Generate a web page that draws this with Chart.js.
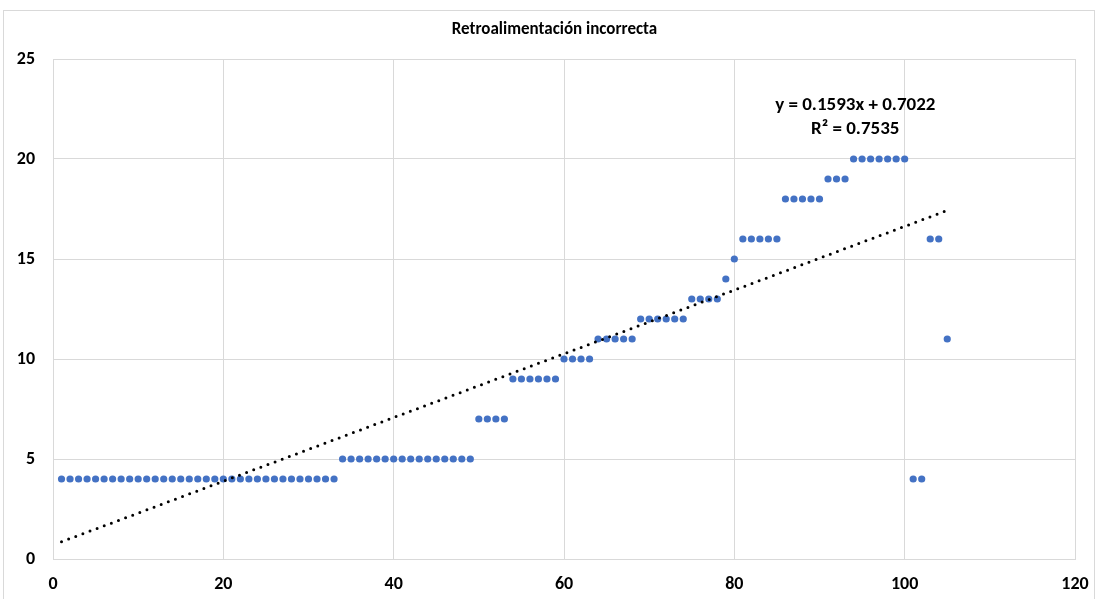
<!DOCTYPE html>
<html>
<head>
<meta charset="utf-8">
<script src="https://cdn.jsdelivr.net/npm/chart.js@4/dist/chart.umd.min.js"></script>
<style>
  html, body { margin: 0; padding: 0; background: #fff; }
  #wrap { width: 1097px; height: 599px; position: relative; }
</style>
</head>
<body>
<div id="wrap"><canvas id="c" width="1097" height="599"></canvas></div>
<script>
// Observation index (1..105) and its score
const xValues = [];
for (let i = 1; i <= 105; i++) xValues.push(i);
const yValues = [
  4,4,4,4,4,4,4,4,4,4, 4,4,4,4,4,4,4,4,4,4, 4,4,4,4,4,4,4,4,4,4, 4,4,4,
  5,5,5,5,5,5,5,5,5,5, 5,5,5,5,5,5,
  7,7,7,7,
  9,9,9,9,9,9,
  10,10,10,10,
  11,11,11,11,11,
  12,12,12,12,12,12,
  13,13,13,13,
  14,
  15,
  16,16,16,16,16,
  18,18,18,18,18,
  19,19,19,
  20,20,20,20,20,20,20,
  4,4,
  16,16,
  11
];
// Linear trend reported on the chart
const trendSlope = 0.1593;
const trendIntercept = 0.7022;
const trendR2 = 0.7535;

const xTicks = [0, 20, 40, 60, 80, 100, 120];
const yTicks = [0, 5, 10, 15, 20, 25];

const FONT = "Carlito, Calibri, Lato, 'Open Sans', sans-serif";

const points = xValues.map((x, i) => ({ x: x, y: yValues[i] }));
const xMin = Math.min(...xValues), xMax = Math.max(...xValues);
const trend = [xMin, xMax].map(x => ({ x: x, y: trendSlope * x + trendIntercept }));

const frame = {
  id: 'frame',
  beforeDraw(chart) {
    const ctx = chart.ctx;
    ctx.save();
    ctx.fillStyle = '#fff';
    ctx.fillRect(0, 0, chart.width, chart.height);
    ctx.strokeStyle = '#d9d9d9';
    ctx.lineWidth = 1;
    ctx.strokeRect(3.5, 10.5, chart.width - 6, chart.height);
    ctx.restore();
  }
};

const equation = {
  id: 'equation',
  afterDatasetsDraw(chart) {
    const ctx = chart.ctx;
    const xs = chart.scales.x, ys = chart.scales.y;
    const cx = xs.getPixelForValue(94.2);
    const y1 = ys.getPixelForValue(22.7);
    const y2 = ys.getPixelForValue(21.5);
    ctx.save();
    ctx.fillStyle = '#000';
    ctx.font = "bold 19px " + FONT;
    ctx.textAlign = 'center';
    ctx.textBaseline = 'middle';
    const sign = trendIntercept >= 0 ? '+' : '-';
    ctx.fillText('y = ' + trendSlope.toFixed(4) + 'x ' + sign + ' ' + Math.abs(trendIntercept).toFixed(4), cx, y1);
    ctx.fillText('R\u00B2 = ' + trendR2.toFixed(4), cx, y2);
    ctx.restore();
  }
};

new Chart(document.getElementById('c'), {
  type: 'scatter',
  data: {
    datasets: [
      {
        label: 'Retroalimentación incorrecta',
        data: points,
        backgroundColor: '#4472C4',
        borderColor: '#4472C4',
        pointRadius: 3.6,
        pointBorderWidth: 0,
        order: 2
      },
      {
        type: 'line',
        label: 'Tendencia',
        data: trend,
        borderColor: '#000',
        borderWidth: 3,
        borderDash: [0, 7.6],
        borderCapStyle: 'round',
        pointRadius: 0,
        fill: false,
        order: 1
      }
    ]
  },
  plugins: [frame, equation],
  options: {
    responsive: false,
    animation: false,
    events: [],
    layout: { padding: { left: 12, right: 0, top: 0, bottom: 0 } },
    plugins: {
      legend: { display: false },
      tooltip: { enabled: false },
      title: {
        display: true,
        text: 'Retroalimentación incorrecta',
        color: '#000',
        font: { family: FONT, size: 17, weight: 'bold', lineHeight: 1.2 },
        padding: { top: 19.8, bottom: 18.8 }
      }
    },
    scales: {
      x: {
        type: 'linear',
        min: 0, max: 120,
        afterBuildTicks(s) { s.ticks = xTicks.map(v => ({ value: v })); },
        afterFit(s) { s.height = 40; s.paddingLeft = 0; s.paddingRight = 22; },
        grid: { color: '#d9d9d9', lineWidth: 1, drawTicks: false },
        border: { color: '#d9d9d9' },
        ticks: { color: '#000', padding: 15, font: { family: FONT, size: 18, weight: 'bold' } }
      },
      y: {
        type: 'linear',
        min: 0, max: 25,
        afterBuildTicks(s) { s.ticks = yTicks.map(v => ({ value: v })); },
        afterFit(s) { s.width = 41; s.paddingTop = 0; s.paddingBottom = 0; },
        grid: { color: '#d9d9d9', lineWidth: 1, drawTicks: false },
        border: { color: '#d9d9d9' },
        ticks: { color: '#000', padding: 18, font: { family: FONT, size: 18, weight: 'bold' } }
      }
    }
  }
});
</script>
</body>
</html>
